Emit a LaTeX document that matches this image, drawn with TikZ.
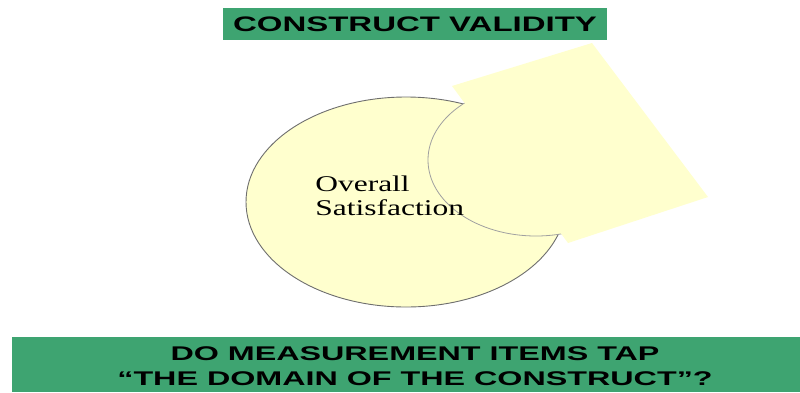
\documentclass[tikz,border=0pt]{standalone}
\usepackage{fontspec}
\setmainfont{Liberation Serif}
\setsansfont{Liberation Sans}
\definecolor{boxgreen}{RGB}{62,164,113}
\definecolor{paleyellow}{RGB}{255,255,206}
\definecolor{darkrim}{RGB}{110,110,110}
\definecolor{lightrim}{RGB}{160,160,160}
\tikzset{
  banner/.style={fill=boxgreen, draw=none},
  bannertext/.style={font=\sffamily\bfseries, text=black, align=center, inner sep=0pt},
  blob/.style={fill=paleyellow},
}
\begin{document}
\begin{tikzpicture}[x=1pt,y=-1pt]
\useasboundingbox (0,0) rectangle (800,392);
% top banner
\path[banner] (223,8) rectangle (607,40);
\node[bannertext, font=\sffamily\bfseries\fontsize{21}{24}\selectfont, xscale=1.57] (title) at (415,24.5) {CONSTRUCT VALIDITY};
% bottom banner
\path[banner] (12,337) rectangle (800,392);
\node[bannertext, font=\sffamily\bfseries\fontsize{19.8}{24.5}\selectfont, xscale=1.63] (question) at (415,366) {DO MEASUREMENT ITEMS TAP\\``THE DOMAIN OF THE CONSTRUCT''?};
% big ellipse
\path[blob, draw=darkrim, line width=0.9pt] (406,202) ellipse [x radius=160, y radius=105];
% small ellipse
\path[blob, draw=lightrim, line width=0.8pt] (536,160) ellipse [x radius=108, y radius=76];
% skewed rectangle
\path[blob] (452,86) -- (592,43) -- (708,197) -- (568,243) -- cycle;
% label
\node[font=\rmfamily\fontsize{22.5}{24}\selectfont, align=left, inner sep=0pt, anchor=north west, xscale=1.4] (label) at (315,176) {Overall\\Satisfaction};
\end{tikzpicture}
\end{document}
